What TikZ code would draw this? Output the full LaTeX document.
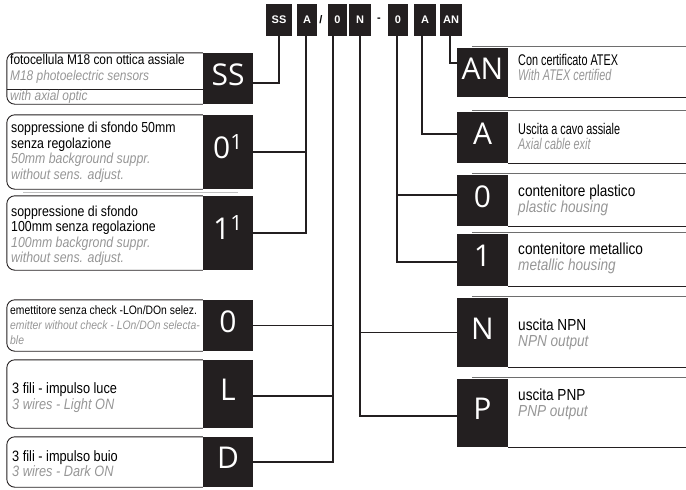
\documentclass[tikz,border=0pt]{standalone}
\usepackage{fontspec}
\setmainfont{Liberation Sans}
\newfontfamily\condfont[FakeStretch=0.85]{Liberation Sans}
\newfontfamily\narrowfont[FakeStretch=0.7]{Liberation Sans}
\newfontfamily\codefont{Open Sans}
\definecolor{boxblack}{RGB}{35,31,32}
\definecolor{engl}{RGB}{150,150,150}
\definecolor{rule}{RGB}{110,110,110}
\tikzset{
	blk/.style={fill=boxblack, text=white, inner sep=0, minimum width=50pt,
		font=\codefont\fontsize{30}{30}\selectfont, text height=21pt, text depth=8pt},
	key/.style={fill=boxblack, text=white, inner sep=0, minimum height=32pt,
		font=\bfseries\fontsize{11}{11}\selectfont},
	it/.style={anchor=base west, inner sep=0, font=\condfont\fontsize{14.5}{15}\selectfont},
	en/.style={it, text=engl, font=\condfont\itshape\fontsize{14.5}{15}\selectfont},
	wire/.style={draw=boxblack, line width=1.4pt},
	frame/.style={draw=boxblack, line width=0.9pt, rounded corners=8pt},
	rtop/.style={draw=rule, line width=1.2pt},
	rbot/.style={draw=boxblack, line width=1pt},
}
\begin{document}
\begin{tikzpicture}[x=1pt, y=-1pt]
	\useasboundingbox (0,0) rectangle (686,490);
	% code along the top
	\node[key, minimum width=26pt] (kSS) at (279,20) {SS};
	\node[key, minimum width=20pt] (kA) at (307,20) {A};
	\node[inner sep=0, font=\bfseries\fontsize{11}{11}\selectfont] (ksl) at (321,20) {/};
	\node[key, minimum width=19pt] (k0) at (337.5,20) {0};
	\node[key, minimum width=22pt] (kN) at (360,20) {N};
	\node[inner sep=0, font=\bfseries\fontsize{11}{11}\selectfont] (kda) at (379,20) {-};
	\node[key, minimum width=20pt] (k0b) at (398,20) {0};
	\node[key, minimum width=22pt] (kAb) at (425,20) {A};
	\node[key, minimum width=22pt] (kAN) at (451,20) {AN};

	% left column
	\node[blk, minimum height=51pt] (lSS) at (228,78.5) {SS};
	\node[blk, minimum height=74pt] (l01) at (228,152) {0\textsuperscript{1}};
	\node[blk, minimum height=74pt] (l11) at (228,233) {1\textsuperscript{1}};
	\node[blk, minimum height=51pt] (lO) at (228,325.5) {0};
	\node[blk, minimum height=68pt] (lL) at (228,394) {L};
	\node[blk, minimum height=50pt] (lD) at (228,462) {D};
	\foreach \n in {lSS,l01,l11,lO,lL,lD}
		\draw[frame] (\n.north west) -| ([xshift=-196pt]\n.south west) -- (\n.south west);
	\draw[draw=boxblack, line width=0.6pt] (7,89) -- (203,89);
	\draw[draw=engl!60, line width=0.8pt] (23,192) -- (238,192);

	\node[it, font=\condfont\fontsize{14}{15}\selectfont] (tSS1) at (10,64) {fotocellula M18 con ottica assiale};
	\node[en, font=\condfont\itshape\fontsize{14}{15}\selectfont] (tSS2) at (10,80) {M18 photoelectric sensors};
	\node[en, font=\condfont\itshape\fontsize{14}{15}\selectfont] (tSS3) at (10,100) {with axial optic};
	\node[it] (t011) at (11,132) {soppressione di sfondo 50mm};
	\node[it] (t012) at (11,148) {senza regolazione};
	\node[en] (t013) at (11,163) {50mm background suppr.};
	\node[en] (t014) at (11,179) {without sens. adjust.};
	\node[it] (t111) at (11,216) {soppressione di sfondo};
	\node[it] (t112) at (11,231) {100mm senza regolazione};
	\node[en] (t113) at (11,247) {100mm backgrond suppr.};
	\node[en] (t114) at (11,262) {without sens. adjust.};
	\node[it, font=\condfont\fontsize{12.2}{15}\selectfont] (tO1) at (10,314) {emettitore senza check -LOn/DOn selez.};
	\node[en, font=\condfont\itshape\fontsize{12.2}{15}\selectfont] (tO2) at (10,329) {emitter without check - LOn/DOn selecta-};
	\node[en, font=\condfont\itshape\fontsize{12.2}{15}\selectfont] (tO3) at (10,344) {ble};
	\node[it, font=\condfont\fontsize{15}{15}\selectfont] (tL1) at (12,393) {3 fili - impulso luce};
	\node[en, font=\condfont\itshape\fontsize{15}{15}\selectfont] (tL2) at (12,409) {3 wires - Light ON};
	\node[it, font=\condfont\fontsize{15}{15}\selectfont] (tD1) at (12,461) {3 fili - impulso buio};
	\node[en, font=\condfont\itshape\fontsize{15}{15}\selectfont] (tD2) at (12,476) {3 wires - Dark ON};

	% right column
	\node[blk, minimum width=51pt, minimum height=49pt] (rAN) at (482.5,72.5) {AN};
	\node[blk, minimum width=51pt, minimum height=51pt] (rA) at (482.5,137.5) {A};
	\node[blk, minimum width=51pt, minimum height=51pt] (rO) at (482.5,200.5) {0};
	\node[blk, minimum width=51pt, minimum height=52pt] (r1) at (482.5,260) {1};
	\node[blk, minimum width=51pt, minimum height=69pt] (rN) at (482.5,332.5) {N};
	\node[blk, minimum width=51pt, minimum height=68pt] (rP) at (482.5,413) {P};
	\foreach \n in {rAN,rA,rO,r1,rN,rP} {
		\draw[rtop] ([xshift=15pt,yshift=1.5pt]\n.north west) -- ++(214pt,0);
		\draw[rbot] (\n.south east) -- ++(178pt,0);
	}

	\node[it, font=\narrowfont\fontsize{15.5}{15}\selectfont] (tAN1) at (518,65) {Con certificato ATEX};
	\node[en, font=\narrowfont\itshape\fontsize{15.5}{15}\selectfont] (tAN2) at (518,80) {With ATEX certified};
	\node[it, font=\narrowfont\fontsize{15.5}{15}\selectfont] (tA1) at (518,134) {Uscita a cavo assiale};
	\node[en, font=\narrowfont\itshape\fontsize{15.5}{15}\selectfont] (tA2) at (518,149) {Axial cable exit};
	\node[it, font=\condfont\fontsize{16}{15}\selectfont] (tRO1) at (518,196) {contenitore plastico};
	\node[en, font=\condfont\itshape\fontsize{16}{15}\selectfont] (tRO2) at (518,212) {plastic housing};
	\node[it, font=\condfont\fontsize{16}{15}\selectfont] (tR11) at (518,254) {contenitore metallico};
	\node[en, font=\condfont\itshape\fontsize{16}{15}\selectfont] (tR12) at (518,270) {metallic housing};
	\node[it, font=\condfont\fontsize{16}{15}\selectfont] (tN1) at (518,330) {uscita NPN};
	\node[en, font=\condfont\itshape\fontsize{16}{15}\selectfont] (tN2) at (518,346) {NPN output};
	\node[it, font=\condfont\fontsize{16}{15}\selectfont] (tP1) at (518,400) {uscita PNP};
	\node[en, font=\condfont\itshape\fontsize{16}{15}\selectfont] (tP2) at (518,416) {PNP output};

	% connectors
	\draw[wire] (kSS.south) |- ([yshift=-4.5pt]lSS.east);
	\draw[wire] ([xshift=-1pt]kA.south) |- (l01.east);
	\draw[wire] ([xshift=-1pt]kA.south) |- (l11.east);
	\draw[wire] ([xshift=-4.5pt]k0.south) |- (lO.east);
	\draw[wire] ([xshift=-4.5pt]k0.south) |- ([yshift=-2pt]lL.east);
	\draw[wire] ([xshift=-4.5pt]k0.south) |- (lD.east);
	\draw[wire] (kN.south) |- (rN.west);
	\draw[wire] (kN.south) |- ([yshift=-3pt]rP.west);
	\draw[wire] ([xshift=-1pt]k0b.south) |- ([yshift=5.5pt]rO.west);
	\draw[wire] ([xshift=-1pt]k0b.south) |- ([yshift=-2pt]r1.west);
	\draw[wire] ([xshift=-3pt]kAb.south) |- ([yshift=3.5pt]rA.west);
	\draw[wire] ([xshift=-1pt]kAN.south) |- ([yshift=9.5pt]rAN.west);
\end{tikzpicture}
\end{document}
